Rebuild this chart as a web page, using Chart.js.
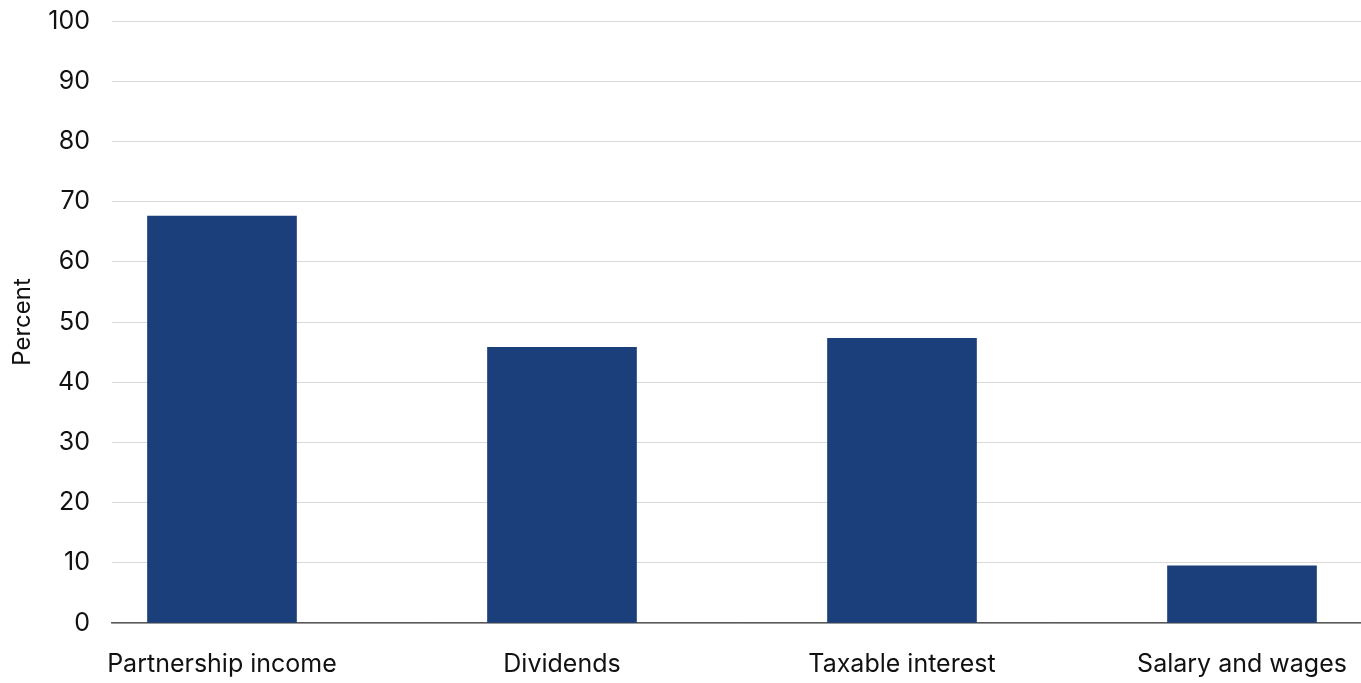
<!DOCTYPE html>
<html>
<head>
<meta charset="utf-8">
<script src="https://cdn.jsdelivr.net/npm/chart.js@4/dist/chart.umd.min.js"></script>
<style>
  html, body { margin: 0; padding: 0; background: #fff; }
  #wrap { width: 1361px; height: 683px; }
</style>
</head>
<body>
<div id="wrap"><canvas id="grafico"></canvas></div>
<script>
// dados
const categorias = ["Partnership income", "Dividends", "Taxable interest", "Salary and wages"];
const valores = [67.6, 45.8, 47.3, 9.5];
const ticksY = [0, 10, 20, 30, 40, 50, 60, 70, 80, 90, 100];

const fonte = "Inter, 'DejaVu Sans', sans-serif";

new Chart(document.getElementById("grafico"), {
  type: 'bar',
  data: {
    datasets: [{
      label: "Percent",
      backgroundColor: "#1b3f7a",
      data: valores.map((v, i) => ({ x: i, y: v })),
      barThickness: 149
    }]
  },
  options: {
    responsive: true,
    maintainAspectRatio: false,
    animation: false,
    layout: { padding: { top: 21, right: 0, left: 0, bottom: 0 } },
    plugins: {
      legend: { display: false },
      tooltip: { enabled: false }
    },
    scales: {
      x: {
        type: 'linear',
        offset: false,
        min: -0.3235,
        max: 3.35,
        afterBuildTicks: (scale) => {
          scale.ticks = categorias.map((c, i) => ({ value: i }));
        },
        afterFit: (scale) => {
          scale.height = 60;
          scale.paddingLeft = 0;
          scale.paddingRight = 0;
        },
        grid: { display: false, drawTicks: false, offset: false },
        border: { display: true, color: "#595959", width: 1.5 },
        ticks: {
          padding: 26,
          color: "#111",
          font: { family: fonte, size: 25 },
          maxRotation: 0,
          autoSkip: false,
          callback: (v) => categorias[v]
        }
      },
      y: {
        min: 0,
        max: 100,
        afterBuildTicks: (scale) => {
          scale.ticks = ticksY.map(v => ({ value: v }));
        },
        afterFit: (scale) => {
          scale.width = 112;
          scale.paddingTop = 0;
          scale.paddingBottom = 0;
        },
        grid: { color: "#d9d9d9", lineWidth: 1, drawTicks: false },
        border: { display: false },
        ticks: {
          padding: 22,
          color: "#111",
          font: { family: fonte, size: 25 }
        },
        title: {
          display: true,
          text: "Percent",
          color: "#111",
          font: { family: fonte, size: 24 },
          padding: { top: 8, bottom: 0 }
        }
      }
    }
  }
});
</script>
</body>
</html>
